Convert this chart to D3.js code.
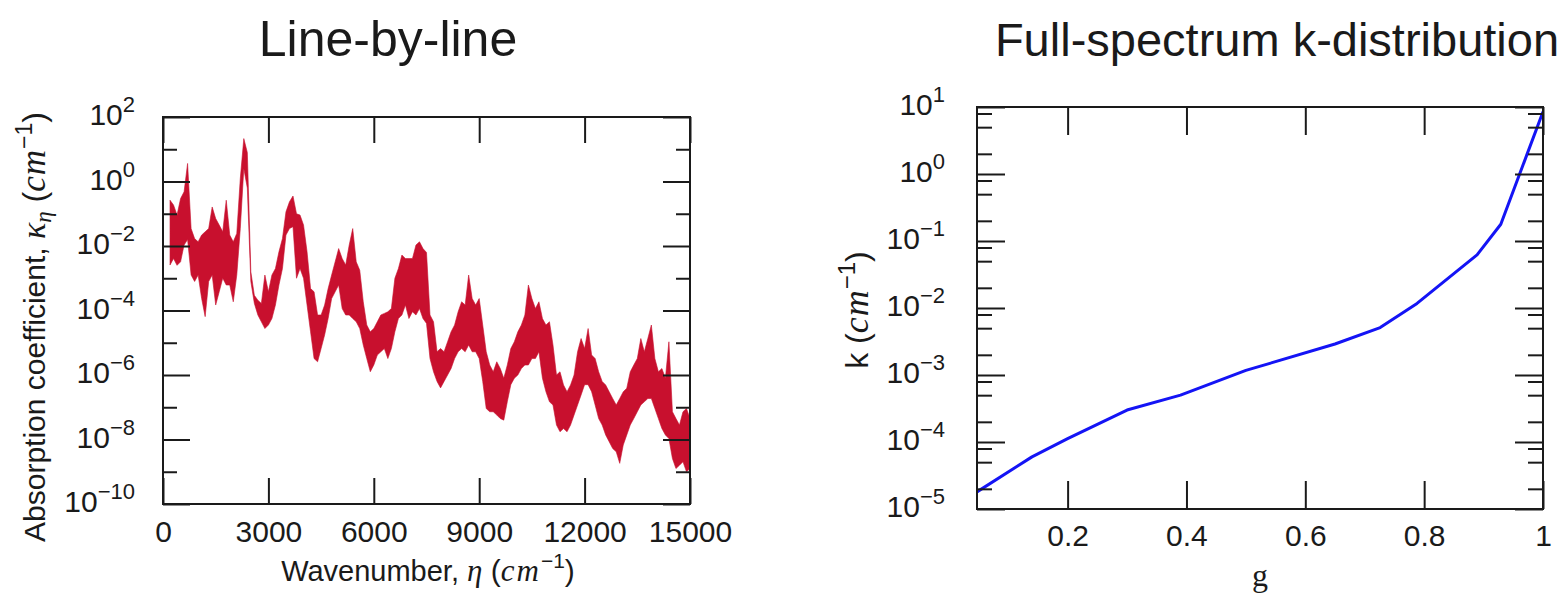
<!DOCTYPE html>
<html>
<head>
<meta charset="utf-8">
<script src="https://cdn.jsdelivr.net/npm/d3@7"></script>
<style>
  body { margin: 0; background: #fff; }
  svg { display: block; }
</style>
</head>
<body>
<svg id="chart" width="1562" height="597"></svg>
<script>
// ---- left panel: line-by-line spectrum, envelope (log10 of kappa) ----
const wavenumber = [
  200, 300, 400, 500, 600, 700, 800, 900, 1000, 1100, 1200, 1300, 1400, 1500, 1600, 1700, 1800, 1900, 2000,
  2100, 2200, 2300, 2400, 2500, 2600, 2700, 2800, 2900, 3000, 3100, 3200, 3300, 3400, 3500, 3600, 3700,
  3800, 3900, 4000, 4100, 4200, 4300, 4400, 4500, 4600, 4700, 4800, 4900, 5000, 5100, 5200, 5300, 5400,
  5500, 5600, 5700, 5800, 5900, 6000, 6100, 6200, 6300, 6400, 6500, 6600, 6700, 6800, 6900, 7000, 7100,
  7200, 7300, 7400, 7500, 7600, 7700, 7800, 7900, 8000, 8100, 8200, 8300, 8400, 8500, 8600, 8700, 8800,
  8900, 9000, 9100, 9200, 9300, 9400, 9500, 9600, 9700, 9800, 9900, 10000, 10100, 10200, 10300, 10400,
  10500, 10600, 10700, 10800, 10900, 11000, 11100, 11200, 11300, 11400, 11500, 11600, 11700, 11800,
  11900, 12000, 12100, 12200, 12300, 12400, 12500, 12600, 12700, 12800, 12900, 13000, 13100, 13200,
  13300, 13400, 13500, 13600, 13700, 13800, 13900, 14000, 14100, 14200, 14300, 14400, 14500, 14600,
  14700, 14800, 14900, 15000
];
const kappaUpperExp = [
  -0.58, -0.73, -1.04, -0.53, -0.32, 0.56, -1.46, -1.77, -1.87, -1.66, -1.56, -1.46, -0.79, -1.15, -1.35, -1.56, -0.58, -1.66, -1.87,
  -1.61, 0.09, 1.33, 0.90, -2.80, -3.53, -3.68, -3.78, -2.90, -3.42, -2.90, -2.70, -2.18, -1.77, -0.94, -0.63, -0.45,
  -1.00, -1.04, -1.35, -2.18, -3.32, -3.42, -4.14, -4.14, -3.83, -3.32, -2.90, -2.49, -2.08, -2.39, -2.59, -1.97, -1.46,
  -2.49, -2.75, -3.73, -4.45, -4.66, -4.56, -4.35, -4.14, -4.09, -4.04, -3.94, -3.00, -2.70, -2.28, -2.39, -2.39, -2.39,
  -1.97, -1.87, -2.08, -2.20, -4.14, -4.35, -5.28, -5.18, -5.28, -4.97, -4.66, -4.45, -4.04, -3.73, -3.83, -2.90, -3.63,
  -3.83, -3.63, -4.45, -5.28, -5.69, -5.90, -5.59, -5.80, -6.10, -5.69, -5.18, -4.97, -4.66, -4.45, -4.14, -3.21,
  -3.63, -3.94, -3.73, -4.25, -4.45, -4.35, -5.07, -6.00, -5.90, -6.31, -6.52, -6.31, -6.00, -5.28,
  -4.87, -5.18, -4.56, -5.38, -5.49, -5.90, -6.20, -6.31, -6.52, -6.73, -6.93, -6.73, -6.52, -6.41,
  -5.90, -5.69, -5.49, -4.87, -5.28, -4.87, -4.45, -5.49, -5.90, -5.80, -6.10, -4.97, -7.14, -7.35,
  -7.55, -7.14, -7.04, -7.35
];
const kappaLowerExp = [
  -2.59, -2.39, -2.60, -2.49, -1.97, -1.80, -2.90, -3.10, -2.90, -3.63, -4.19, -3.10, -2.90, -3.83, -3.42, -3.00, -3.21, -3.21, -3.73,
  -2.90, -1.46, 0.40, -0.20, -3.10, -3.78, -4.14, -4.35, -4.56, -4.45, -4.25, -3.83, -3.21, -2.70, -1.66, -1.46, -1.40,
  -3.00, -2.70, -3.00, -3.83, -4.66, -5.49, -5.59, -5.18, -4.76, -4.25, -3.63, -3.42, -3.21, -3.94, -4.14, -4.14, -4.25,
  -4.35, -4.56, -5.07, -5.49, -5.90, -5.69, -5.38, -5.28, -5.18, -5.49, -5.18, -4.66, -4.25, -4.14, -3.83, -4.25, -4.04,
  -4.14, -3.94, -4.25, -4.40, -5.49, -5.90, -6.20, -6.40, -6.20, -6.00, -5.80, -5.49, -5.28, -5.18, -5.28, -5.07, -5.28,
  -5.28, -5.49, -6.20, -7.04, -7.14, -7.14, -7.24, -7.35, -7.40, -6.83, -6.30, -6.10, -6.00, -5.80, -5.69, -5.69,
  -5.49, -5.49, -5.28, -6.10, -6.52, -6.83, -6.93, -7.55, -7.76, -7.66, -7.76, -7.55, -7.24, -6.93,
  -6.62, -6.30, -6.30, -6.52, -6.93, -7.35, -7.55, -7.86, -8.07, -8.28, -8.38, -8.74, -8.17, -7.86,
  -7.55, -7.35, -7.14, -6.93, -6.83, -6.73, -6.73, -7.04, -7.35, -7.66, -7.86, -7.97, -8.59, -8.90,
  -8.80, -8.69, -9.00, -8.90
];
const wnTicks = [0, 3000, 6000, 9000, 12000, 15000];
const kappaMajor = [1e2, 1e0, 1e-2, 1e-4, 1e-6, 1e-8, 1e-10];
const kappaMinor = [1e1, 1e-1, 1e-3, 1e-5, 1e-7, 1e-9];

// ---- right panel: full-spectrum k-distribution ----
const gValues = [0.0475, 0.14, 0.2, 0.3, 0.39, 0.5, 0.65, 0.726, 0.788, 0.889, 0.929, 1.0];
const kValues = [1.8e-5, 6.0e-5, 1.12e-4, 3.0e-4, 5.0e-4, 1.17e-3, 2.9e-3, 5.1e-3, 1.17e-2, 6.2e-2, 0.178, 8.5];
const gTicks = [0.2, 0.4, 0.6, 0.8, 1];
const kMajor = [1e1, 1e0, 1e-1, 1e-2, 1e-3, 1e-4, 1e-5];
const kMinor = [8, 5, 2, 0.8, 0.5, 0.2, 0.08, 0.05, 0.02, 8e-3, 5e-3, 2e-3,
                8e-4, 5e-4, 2e-4, 8e-5, 5e-5, 2e-5];

const svg = d3.select("#chart");
const SANS = "'Liberation Sans', Arial, sans-serif";
const SERIF = "'Liberation Serif', 'Times New Roman', serif";
const INK = "#1a1a1a";

// "10" with a superscript exponent
function powerLabel(sel) {
  sel.each(function(d) {
    const t = d3.select(this);
    const e = Math.round(Math.log10(d));
    t.text(null).attr("dy", "0.25em");
    t.append("tspan").text("10");
    t.append("tspan").attr("dy", -13).attr("font-size", 22)
      .text(e < 0 ? "\u2212" + (-e) : String(e));
  });
}

function styleAxis(g) {
  g.select(".domain").remove();
  g.attr("font-family", SANS).attr("font-size", 30);
  g.selectAll(".tick line").attr("stroke", INK).attr("stroke-width", 2);
  g.selectAll(".tick text").attr("fill", INK);
}

function drawPanel(p) {
  const [xa, xb] = p.x.range();
  const [yb, ya] = p.y.range();
  const g = svg.append("g");

  // data first, frame and ticks over it
  p.draw(g);

  g.append("g").attr("transform", `translate(0,${yb})`)
    .call(d3.axisBottom(p.x).tickValues(p.xTicks).tickSizeInner(-p.xTickLen).tickSizeOuter(0)
      .tickPadding(p.xPad).tickFormat(p.xFormat))
    .call(styleAxis);
  g.append("g").attr("transform", `translate(0,${ya})`)
    .call(d3.axisTop(p.x).tickValues(p.xTicks).tickSizeInner(-p.xTickLen).tickSizeOuter(0).tickFormat(""))
    .call(styleAxis);

  g.append("g").attr("transform", `translate(${xa},0)`)
    .call(d3.axisLeft(p.y).tickValues(p.yMajor).tickSizeInner(-p.majorLen).tickSizeOuter(0).tickPadding(p.yPad))
    .call(styleAxis)
    .call(a => a.selectAll(".tick text").call(powerLabel));
  g.append("g").attr("transform", `translate(${xa},0)`)
    .call(d3.axisLeft(p.y).tickValues(p.yMinor).tickSizeInner(-p.minorLen).tickSizeOuter(0).tickFormat(""))
    .call(styleAxis);
  g.append("g").attr("transform", `translate(${xb},0)`)
    .call(d3.axisRight(p.y).tickValues(p.yMajor).tickSizeInner(-p.majorLen).tickSizeOuter(0).tickFormat(""))
    .call(styleAxis);
  g.append("g").attr("transform", `translate(${xb},0)`)
    .call(d3.axisRight(p.y).tickValues(p.yMinor).tickSizeInner(-p.minorLen).tickSizeOuter(0).tickFormat(""))
    .call(styleAxis);

  g.append("rect").attr("x", xa).attr("y", ya).attr("width", xb - xa).attr("height", yb - ya)
    .attr("fill", "none").attr("stroke", INK).attr("stroke-width", 2);
}

// ---------- left: line-by-line ----------
const xL = d3.scaleLinear().domain([0, 15000]).range([163, 690]);
const yL = d3.scaleLog().domain([1e-10, 1e2]).range([504, 117]);
const spectrum = wavenumber.map((wn, i) => ({
  wn: wn, hi: Math.pow(10, kappaUpperExp[i]), lo: Math.pow(10, kappaLowerExp[i])
}));

svg.append("clipPath").attr("id", "clipL")
  .append("rect").attr("x", 163).attr("y", 117).attr("width", 527).attr("height", 387);

drawPanel({
  x: xL, y: yL, xTicks: wnTicks, xTickLen: 26, xPad: 17, xFormat: d3.format("d"),
  yMajor: kappaMajor, yMinor: kappaMinor, majorLen: 27, minorLen: 14, yPad: 28,
  draw: g => {
    const area = d3.area().x(d => xL(d.wn)).y0(d => yL(d.lo)).y1(d => yL(d.hi));
    g.append("path").datum(spectrum).attr("clip-path", "url(#clipL)")
      .attr("d", area).attr("fill", "#c8102e").attr("stroke", "#c8102e")
      .attr("stroke-width", 1).attr("stroke-opacity", 0.6);
  }
});

// ---------- right: k-distribution ----------
const xR = d3.scaleLinear().domain([0.0475, 1]).range([977, 1543]);
const yR = d3.scaleLog().domain([1e-5, 1e1]).range([509, 107]);
const kdist = gValues.map((g, i) => ({ g: g, k: kValues[i] }));

svg.append("clipPath").attr("id", "clipR")
  .append("rect").attr("x", 977).attr("y", 107).attr("width", 566).attr("height", 402);

drawPanel({
  x: xR, y: yR, xTicks: gTicks, xTickLen: 28, xPad: 16, xFormat: d3.format("~g"),
  yMajor: kMajor, yMinor: kMinor, majorLen: 28, minorLen: 15, yPad: 32,
  draw: g => {
    const line = d3.line().x(d => xR(d.g)).y(d => yR(d.k));
    g.append("path").datum(kdist).attr("clip-path", "url(#clipR)")
      .attr("d", line).attr("fill", "none").attr("stroke", "#1414f5")
      .attr("stroke-width", 3).attr("stroke-linejoin", "round");
  }
});

// ---------- titles and axis labels ----------
svg.append("text").attr("x", 388).attr("y", 56).attr("text-anchor", "middle")
  .attr("font-family", SANS).attr("font-size", 50).attr("fill", INK).text("Line-by-line");
svg.append("text").attr("x", 1277).attr("y", 56).attr("text-anchor", "middle")
  .attr("font-family", SANS).attr("font-size", 47).attr("fill", INK).text("Full-spectrum k-distribution");

// left x label
svg.append("text").attr("x", 428).attr("y", 581).attr("text-anchor", "middle")
  .attr("font-family", SANS).attr("font-size", 29).attr("fill", INK)
  .call(t => {
    t.append("tspan").text("Wavenumber, ");
    t.append("tspan").attr("font-family", SERIF).attr("font-style", "italic").attr("font-size", 31).text("\u03B7");
    t.append("tspan").attr("font-size", 30).text(" (");
    t.append("tspan").attr("font-family", SERIF).attr("font-style", "italic").attr("font-size", 31)
      .attr("letter-spacing", 2).text("cm");
    t.append("tspan").attr("dy", -13).attr("font-size", 21).text("\u22121");
    t.append("tspan").attr("dy", 13).attr("font-size", 30).text(")");
  });

// left y label
svg.append("text").attr("transform", "translate(45,327) rotate(-90)").attr("text-anchor", "middle")
  .attr("font-family", SANS).attr("font-size", 30).attr("fill", INK)
  .call(t => {
    t.append("tspan").text("Absorption coefficient, ");
    t.append("tspan").attr("font-family", SERIF).attr("font-style", "italic").attr("font-size", 34).text("\u03BA");
    t.append("tspan").attr("font-family", SERIF).attr("font-style", "italic").attr("font-size", 23)
      .attr("dy", 6).text("\u03B7");
    t.append("tspan").attr("dy", -6).attr("font-size", 32).text(" (");
    t.append("tspan").attr("font-family", SERIF).attr("font-style", "italic").attr("font-size", 35)
      .attr("letter-spacing", 1).text("cm");
    t.append("tspan").attr("dy", -13).attr("font-size", 23).text("\u22121");
    t.append("tspan").attr("dy", 13).attr("font-size", 32).text(")");
  });

// right x label
svg.append("text").attr("x", 1260).attr("y", 586).attr("text-anchor", "middle")
  .attr("font-family", SERIF).attr("font-size", 32).attr("fill", INK).text("g");

// right y label
svg.append("text").attr("transform", "translate(868,310) rotate(-90)").attr("text-anchor", "middle")
  .attr("font-family", SANS).attr("font-size", 32).attr("fill", INK)
  .call(t => {
    t.append("tspan").text("k (");
    t.append("tspan").attr("font-family", SERIF).attr("font-style", "italic").attr("font-size", 36)
      .attr("letter-spacing", 1).text("cm");
    t.append("tspan").attr("dy", -13).attr("font-size", 24).text("\u22121");
    t.append("tspan").attr("dy", 13).text(")");
  });
</script>
</body>
</html>
